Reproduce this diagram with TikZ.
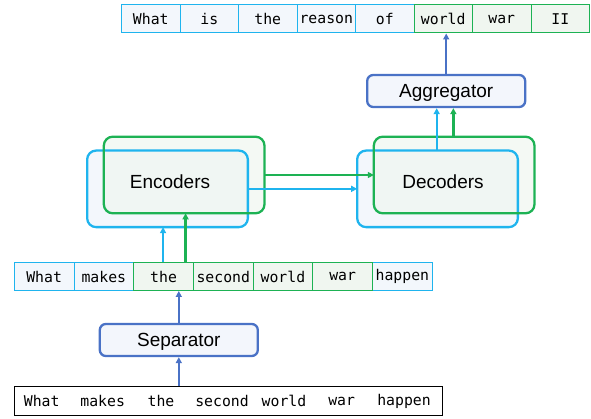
\documentclass[tikz,border=0pt]{standalone}
\usepackage{fontspec}
\setmainfont{Liberation Sans}
\setmonofont{DejaVu Sans Mono}
\usetikzlibrary{arrows.meta}
\definecolor{cyb}{HTML}{1FB4EE}
\definecolor{grn}{HTML}{1DB254}
\definecolor{fb}{HTML}{F3F7FC}
\definecolor{fg}{HTML}{F0F6F0}
\definecolor{pb}{HTML}{4A72C6}
\definecolor{pf}{HTML}{F3F6FC}
\tikzset{
  tok/.style={font=\ttfamily\fontsize{14.8}{16}\selectfont},
  cellb/.style={tok, draw=cyb, fill=fb, line width=1pt, inner sep=0pt, minimum height=28pt},
  cellg/.style={tok, draw=grn, fill=fg, line width=1pt, inner sep=0pt, minimum height=28pt},
  proc/.style={draw=pb, fill=pf, line width=2.3pt, rounded corners=6pt, minimum width=158pt, minimum height=32pt, inner sep=0pt},
  bigb/.style={line width=2.3pt, rounded corners=9pt, minimum width=158.4pt, minimum height=74.3pt, inner sep=0pt},
  lab/.style={font=\fontsize{19}{20}\selectfont},
  ba/.style={draw=cyb, line width=2.3pt, -{Triangle[length=6pt,width=6pt]}},
  ga/.style={draw=grn, line width=2.3pt, -{Triangle[length=6pt,width=6pt]}},
  pa/.style={draw=pb, line width=2.3pt, -{Triangle[length=6pt,width=6pt]}}
}
\begin{document}
\begin{tikzpicture}[x=1pt,y=-1pt]
\useasboundingbox (0,0) rectangle (591,419);
% top output row
\foreach \w [count=\i from 0] in {What,is,the,reason,of}
  \node[cellb, minimum width=58.5pt] (t\i) at ({150.75+58.5*\i},19) {\w};
\foreach \w [count=\i from 5] in {world,war,II}
  \node[cellg, minimum width=58.5pt] (t\i) at ({150.75+58.5*\i},19) {\w};
% aggregator
\node[proc] (agg) at (446.2,91) {};
\node[lab] (agglab) at (446.2,92.5) {Aggregator};
% encoder / decoder boxes
\node[bigb, fill=fb] (encb) at (167.5,188.85) {};
\node[bigb, fill=fg, fill opacity=0.7] (encg) at (184.15,175) {};
\node[bigb, fill=fb] (decb) at (437.5,188.85) {};
\node[bigb, fill=fg, fill opacity=0.7] (decg) at (454.15,175) {};
\draw[draw=cyb, line width=2.3pt, rounded corners=9pt] (encb.south west) rectangle (encb.north east);
\draw[draw=grn, line width=2.3pt, rounded corners=9pt] (encg.south west) rectangle (encg.north east);
\draw[draw=cyb, line width=2.3pt, rounded corners=9pt] (decb.south west) rectangle (decb.north east);
\draw[draw=grn, line width=2.3pt, rounded corners=9pt] (decg.south west) rectangle (decg.north east);
\node[lab] (enclab) at (170,182) {Encoders};
\node[lab] (declab) at (443,182) {Decoders};
% middle token row
\node[cellb, minimum width=59.7pt] (m0) at ({44.15+59.7*0},276.5) {What};
\node[cellb, minimum width=59.7pt] (m1) at ({44.15+59.7*1},276.5) {makes};
\node[cellb, minimum width=59.7pt] (m6) at ({44.15+59.7*6},276.5) {happen};
\foreach \w [count=\i from 2] in {the,second,world,war}
  \node[cellg, minimum width=59.7pt] (m\i) at ({44.15+59.7*\i},276.5) {\w};
% separator
\node[proc] (sep) at (178.8,340) {};
\node[lab] (seplab) at (178.8,341.5) {Separator};
% bottom input row
\node[draw=black, line width=1pt, minimum width=428pt, minimum height=29pt, inner sep=0pt] (bot) at (228.3,401.2) {};
\foreach \w/\x [count=\i] in {What/41.7,makes/102.7,the/161,second/222,world/284,war/341.7,happen/404}
  \node[tok] (b\i) at (\x,401.2) {\w};
% connectors
\draw[pa] (sep.south |- bot.north) -- (sep.south);
\draw[pa] (sep.north) -- (sep.north |- m2.south);
\draw[ba] ([xshift=-0.5pt]m2.north) -- ([xshift=-0.5pt]m2.north |- encb.south);
\draw[ga] ([xshift=22pt]m2.north) -- ([xshift=22pt]m2.north |- encg.south);
\draw[ga] (encg.east) -- (decg.west);
\draw[ba] (encb.east) -- (decb.west);
\draw[ba] ([xshift=-0.8pt]decb.north) -- ([xshift=-0.8pt]decb.north |- agg.south);
\draw[ga] ([xshift=-0.8pt]decg.north) -- ([xshift=-0.8pt]decg.north |- agg.south);
\draw[pa] (agg.north) -- (agg.north |- t5.south);
\end{tikzpicture}
\end{document}
